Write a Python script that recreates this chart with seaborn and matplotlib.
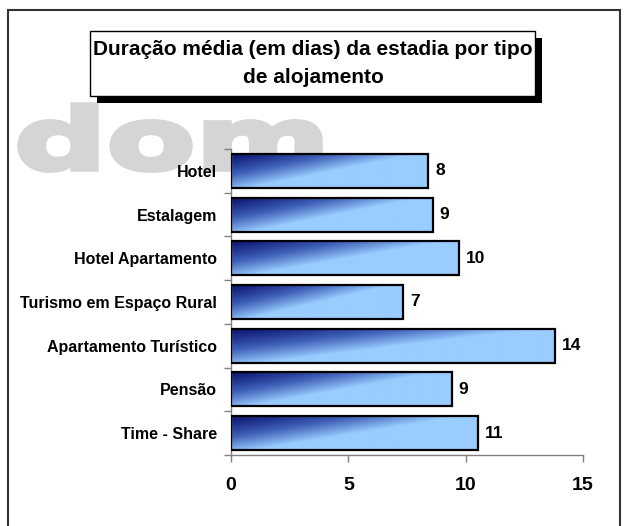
import numpy as np
import matplotlib
matplotlib.use("Agg")
import matplotlib.pyplot as plt
import matplotlib.transforms as mtransforms
import seaborn as sns
from matplotlib.patches import Rectangle, PathPatch
from matplotlib.textpath import TextPath
from matplotlib.font_manager import FontProperties
from matplotlib.colors import LinearSegmentedColormap

# data
categories = ["Hotel", "Estalagem", "Hotel Apartamento", "Turismo em Espaço Rural",
              "Apartamento Turístico", "Pensão", "Time - Share"]
dias = [8.4, 8.6, 9.7, 7.35, 13.8, 9.4, 10.52]
value_labels = [f"{v:.0f}" for v in dias]
x_ticks = [0, 5, 10, 15]
title = "Duração média (em dias) da estadia por tipo\nde alojamento"

W, H = 624, 526

def fx(px):
    return px / W

def fy(py):
    return 1 - py / H

sns.set_style("white")
plt.rcParams["font.family"] = ["Liberation Sans", "DejaVu Sans"]
plt.rcParams["font.weight"] = "bold"
plt.rcParams["text.color"] = "black"
plt.rcParams["xtick.labelcolor"] = "black"
plt.rcParams["ytick.labelcolor"] = "black"

fig = plt.figure(figsize=(W / 100, H / 100), dpi=100)

# grey logo watermark behind the chart
tp = TextPath((0, 0), "dom", size=1, prop=FontProperties(family="DejaVu Sans", weight="bold"))
bb = tp.get_extents()
sx = 300 / bb.width
sy = 64 / bb.y1
trans = mtransforms.Affine2D().scale(sx, sy).translate(20 - bb.x0 * sx, H - 169)
fig.add_artist(PathPatch(tp, transform=trans, fc="#d5d5d5", ec="#d5d5d5", lw=4, zorder=-1))

# outer frame
fig.add_artist(Rectangle((fx(8), fy(560)), fx(620) - fx(8), fy(10) - fy(560),
                         fill=False, ec="#333333", lw=1.5, zorder=1))

# title box with shadow
bw, bh = fx(535) - fx(90), fy(31) - fy(96)
fig.add_artist(Rectangle((fx(97), fy(103)), bw, bh, fc="black", ec="none", zorder=2))
fig.add_artist(Rectangle((fx(90), fy(96)), bw, bh, fc="white", ec="black", lw=1, zorder=3))
fig.text(fx(313), fy(63.5), title, ha="center", va="center", fontsize=15,
         fontweight="bold", linespacing=1.6, zorder=4)

ax = fig.add_axes([fx(231), fy(455), fx(583) - fx(231), fy(149) - fy(455)])
ax.set_facecolor("none")

sns.barplot(x=dias, y=categories, orient="h", width=0.78, color="white",
            edgecolor="black", linewidth=1.6, ax=ax)

cmap = LinearSegmentedColormap.from_list("bar", ["#0a1470", "#3f60b8", "#99ccff"])
u = np.linspace(0, 1, 300)[None, :]
v = np.linspace(0, 1, 60)[:, None]
grad = np.clip(1.05 * u + 0.9 * v, 0, 1) ** 1.2

for p in ax.patches:
    x0, y0 = p.get_x(), p.get_y()
    x1, y1 = x0 + p.get_width(), y0 + p.get_height()
    p.set_facecolor("none")
    p.set_zorder(3)
    im = ax.imshow(grad, cmap=cmap, vmin=0, vmax=1, aspect="auto", origin="upper",
                   extent=[x0, x1, y1, y0], zorder=2, interpolation="bilinear")
    im.set_clip_path(p)

for i, (v_, lab) in enumerate(zip(dias, value_labels)):
    ax.annotate(lab, (v_, i), xytext=(5, 0), textcoords="offset points",
                ha="left", va="center", fontsize=12.5, fontweight="bold")

ax.set_xlim(0, 15)
ax.set_ylim(6.5, -0.5)
ax.set_xticks(x_ticks)
ax.set_yticks(np.arange(-0.5, len(categories), 1), minor=True)
ax.set_xlabel("")
ax.set_ylabel("")

ax.tick_params(axis="x", bottom=True, direction="out", length=5, width=1,
               color="#808080", pad=11, labelsize=14)
ax.tick_params(axis="y", which="major", left=True, length=0, pad=10, labelsize=11.5)
ax.tick_params(axis="y", which="minor", left=True, direction="out", length=5,
               width=1, color="#808080")
for lab in ax.get_xticklabels() + ax.get_yticklabels():
    lab.set_fontweight("bold")

for s in ["top", "right"]:
    ax.spines[s].set_visible(False)
for s in ["left", "bottom"]:
    ax.spines[s].set_color("#808080")
    ax.spines[s].set_linewidth(1)

fig.savefig("out.png", dpi=100)
